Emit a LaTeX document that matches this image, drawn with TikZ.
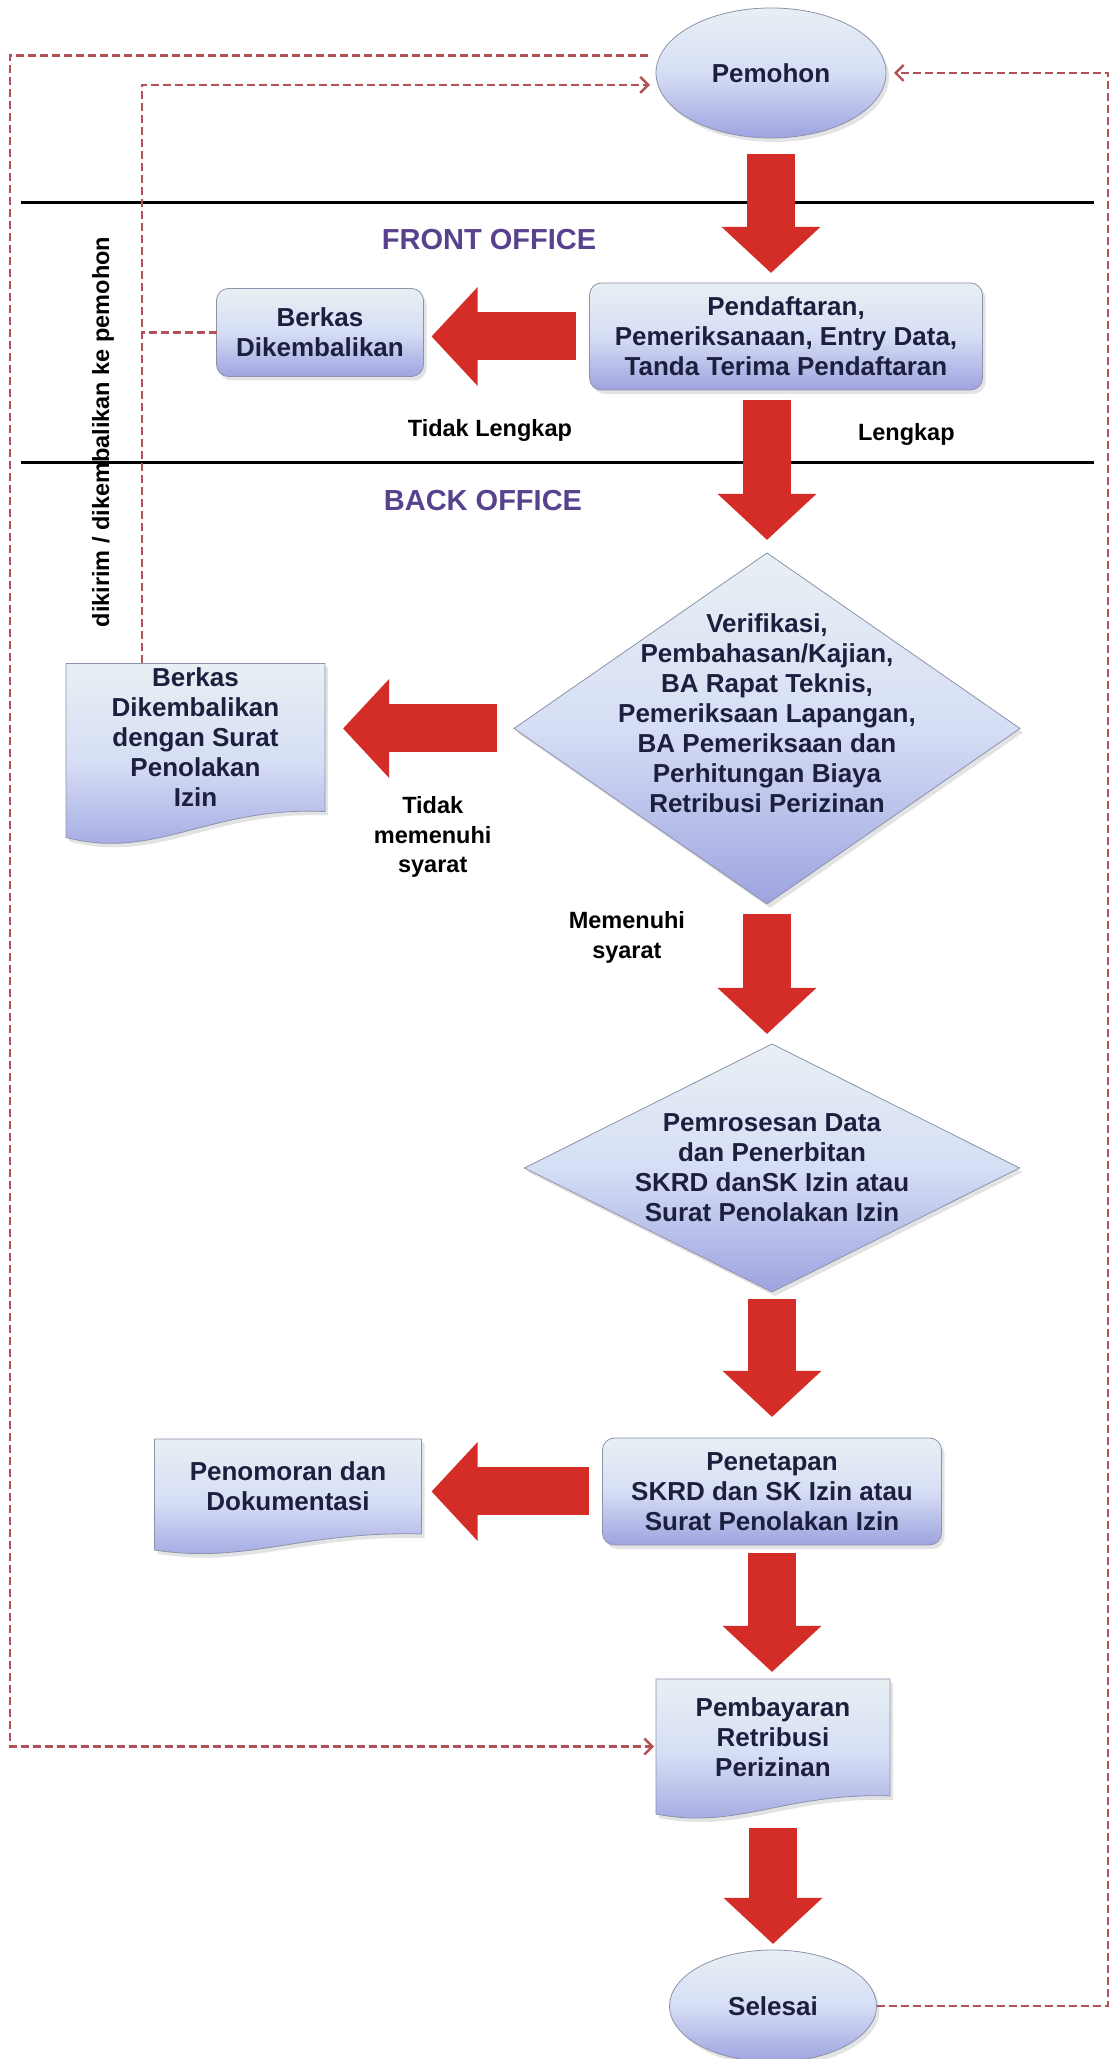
\documentclass[tikz,border=0pt]{standalone}
\usepackage{fontspec}
\setmainfont{Liberation Sans}
\usetikzlibrary{positioning, arrows.meta, shapes.geometric, backgrounds, calc, shadows}

\definecolor{boxtop}{RGB}{232,240,244}
\definecolor{boxmid}{RGB}{214,222,245}
\definecolor{boxbot}{RGB}{158,163,224}
\definecolor{boxline}{RGB}{140,146,170}
\definecolor{boxtext}{RGB}{28,32,62}
\definecolor{blockred}{RGB}{212,44,38}
\definecolor{retred}{RGB}{178,82,86}
\definecolor{lanepurple}{RGB}{88,66,142}

% document symbol behind a node: name, drop of the wavy left end
\newcommand{\docshade}[2]{%
  \path[docfill] (#1.north west) -- (#1.north east) -- (#1.south east)
    .. controls ($(#1.south west)!0.55!(#1.south east)+(0,0.2*#2)$)
            and ($(#1.south west)!0.35!(#1.south east)+(0,-1.9*#2)$)
    .. ($(#1.south west)+(0,-#2)$) -- cycle;}

\begin{document}
\begin{tikzpicture}[
  x=1pt, y=1pt,
  font=\fontsize{26}{30}\selectfont\bfseries,
  >={Straight Barb[length=8pt, width=16pt]},
  base/.style={draw=boxline, line width=0.8pt, top color=boxtop, bottom color=boxbot,
    middle color=boxmid, text=boxtext, align=center, outer sep=0pt,
    drop shadow={opacity=0.22, shadow xshift=3pt, shadow yshift=-4pt}},
  term/.style={base, ellipse, minimum width=230pt, minimum height=130pt, inner sep=0pt},
  proc/.style={base, rounded corners=12pt, minimum height=107pt, inner sep=2pt},
  decide/.style={base, diamond},
  docbox/.style={rectangle, text=boxtext, align=center, outer sep=0pt, inner sep=2pt},
  docfill/.style={draw=boxline, line width=0.8pt, top color=boxtop, bottom color=boxbot,
    middle color=boxmid, drop shadow={opacity=0.22, shadow xshift=3pt, shadow yshift=-4pt}},
  lane/.style={draw=black, line width=3pt},
  lanetitle/.style={text=lanepurple, font=\fontsize{29}{34}\selectfont\bfseries},
  lbl/.style={font=\fontsize{23.5}{29.5}\selectfont\bfseries, text=black, align=center, inner sep=1pt},
  bigarrow/.style={line width=48pt, draw=blockred, -{Triangle[length=46pt, width=96pt]},
    shorten <=10pt, shorten >=10pt},
  retline/.style={draw=retred, line width=2.4pt, dash pattern=on 8pt off 4pt},
]
\useasboundingbox (0,0) rectangle (1111,2059);

% ---- rails and lane lines ----
\coordinate (leftrail) at (10,0);
\coordinate (innerrail) at (142,0);
\coordinate (rightrail) at (1108,0);
\coordinate (lane1w) at (21,1856);
\coordinate (lane1e) at (1094,1856);
\coordinate (lane2w) at (21,1596);
\coordinate (lane2e) at (1094,1596);
\draw[lane] (lane1w) -- (lane1e);
\draw[lane] (lane2w) -- (lane2e);
\node[lanetitle] (front) at (489,1819) {FRONT OFFICE};
\node[lanetitle] (back) at (483,1558) {BACK OFFICE};

% ---- main column ----
\node[term] (pemohon) at (771,1986) {Pemohon};
\node[proc, minimum width=393pt, below=145pt of pemohon, xshift=15pt] (daftar)
  {Pendaftaran,\\ Pemeriksanaan, Entry Data,\\ Tanda Terima Pendaftaran};
\node[decide, minimum width=506pt, minimum height=351pt, shape aspect=1.44, inner sep=-60pt,
  below=163pt of daftar, xshift=-19pt] (verif)
  {Verifikasi,\\ Pembahasan/Kajian,\\ BA Rapat Teknis,\\ Pemeriksaan Lapangan,\\
   BA Pemeriksaan dan\\ Perhitungan Biaya\\ Retribusi Perizinan\\ \mbox{}};
\node[decide, minimum width=495pt, minimum height=248pt, shape aspect=2, inner sep=-30pt,
  below=140pt of verif, xshift=5pt] (proses)
  {Pemrosesan Data\\ dan Penerbitan\\ SKRD danSK Izin atau\\ Surat Penolakan Izin};
\node[proc, minimum width=339pt, below=146pt of proses] (tetap)
  {Penetapan\\ SKRD dan SK Izin atau\\ Surat Penolakan Izin};
\node[docbox, minimum width=234pt, minimum height=117pt, below=134pt of tetap, xshift=1pt] (bayar)
  {Pembayaran\\ Retribusi\\ Perizinan};
\node[term, minimum width=207pt, minimum height=112pt, below=154pt of bayar] (selesai) {Selesai};
\coordinate (bayarin) at ([yshift=-9pt]bayar.west);

% ---- side column ----
\node[proc, minimum width=207pt, minimum height=88pt, left=166pt of daftar, yshift=4pt] (berkas)
  {Berkas\\ Dikembalikan};
\node[docbox, minimum width=259pt, minimum height=148pt, left=189pt of verif, yshift=-9pt] (tolak)
  {Berkas\\ Dikembalikan\\ dengan Surat\\ Penolakan\\ Izin};
\node[docbox, minimum width=267pt, minimum height=95pt, left=181pt of tetap, yshift=5pt] (nomor)
  {Penomoran dan\\ Dokumentasi};

\begin{scope}[on background layer]
  \docshade{tolak}{26}
  \docshade{nomor}{16}
  \docshade{bayar}{18}
\end{scope}

% ---- block arrows ----
\draw[bigarrow, shorten <=16pt] (pemohon.south) -- (pemohon.south |- daftar.north);
\draw[bigarrow, shorten >=13pt] (verif.north |- daftar.south) -- (verif.north)
  node[lbl, pos=0.27, right=66pt] (lengkap) {Lengkap};
\draw[bigarrow] (verif.south) -- (verif.south |- proses.north)
  node[lbl, pos=0.24, left=57pt] (penuhi) {Memenuhi\\ syarat};
\draw[bigarrow, shorten <=7pt, shorten >=21pt] (proses.south) -- (proses.south |- tetap.north);
\draw[bigarrow, shorten <=8pt, shorten >=7pt] (tetap.south) -- (tetap.south |- bayar.north);
\draw[bigarrow, shorten <=32pt, shorten >=6pt] (bayar.south) -- (bayar.south |- selesai.north);
\draw[bigarrow, shorten <=14pt, shorten >=8pt] (daftar.west) -- (daftar.west -| berkas.east)
  node[lbl, pos=0.6, below=58pt] (tdklengkap) {Tidak Lengkap};
\draw[bigarrow, shorten <=17pt, shorten >=18pt] (verif.west) -- (verif.west -| tolak.east)
  node[lbl, pos=0.43, below=43pt] (tdkpenuhi) {Tidak\\ memenuhi\\ syarat};
\draw[bigarrow, shorten <=14pt] (tetap.west) -- (tetap.west -| nomor.east);

% ---- return lines ----
\draw[retline, ->, shorten <=12pt, shorten >=2pt] (pemohon.171) -- (pemohon.171 -| leftrail)
  -- (leftrail |- bayarin) -- (bayarin);
\draw[retline, ->, shorten >=8pt] (tolak.north -| innerrail) -- (innerrail |- pemohon.186)
  -- (pemohon.186);
\draw[retline] (berkas.west) -- (berkas.west -| innerrail);
\draw[retline, ->, shorten >=8pt] (selesai.east) -- (selesai.east -| rightrail)
  -- (rightrail |- pemohon.east) -- (pemohon.east);
\node[lbl, rotate=90] (kirim) at (103,1627) {dikirim / dikembalikan ke pemohon};
\end{tikzpicture}
\end{document}
